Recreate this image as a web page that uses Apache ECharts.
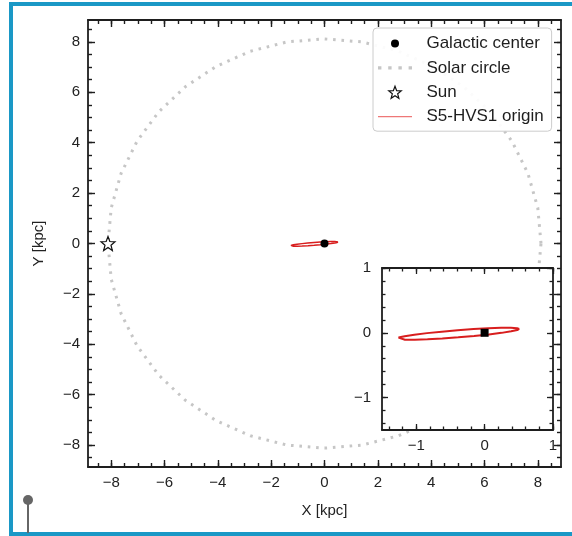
<!DOCTYPE html>
<html>
<head>
<meta charset="utf-8">
<script src="https://cdn.jsdelivr.net/npm/echarts@6/dist/echarts.min.js"></script>
<style>
html,body{margin:0;padding:0;background:#fff;}
#c{width:572px;height:536px;}
</style>
</head>
<body>
<div id="c"></div>
<script>
// ---- data ----
const mainRange = [-8.87, 8.87];
const mainMajorTicks = [-8, -6, -4, -2, 0, 2, 4, 6, 8];
const mainMinorStep = 0.5;
const insetRangeX = [-1.5, 1.0];
const insetRangeY = [-1.5, 1.0];
const insetMajorTicks = [-1, 0, 1];
const insetMinorStep = 0.2;

const galacticCenter = [[0, 0]];
const sunPosition = [[-8.12, 0]];

// Solar circle (R ~ 8.12 kpc), points read around the dotted ring
const solarCircle = [
  [8.12, 0], [8.00, 1.41], [7.63, 2.78], [7.03, 4.06], [6.22, 5.22], [5.22, 6.22],
  [4.06, 7.03], [2.78, 7.63], [1.41, 8.00], [0, 8.12], [-1.41, 8.00], [-2.78, 7.63],
  [-4.06, 7.03], [-5.22, 6.22], [-6.22, 5.22], [-7.03, 4.06], [-7.63, 2.78], [-8.00, 1.41],
  [-8.12, 0], [-8.00, -1.41], [-7.63, -2.78], [-7.03, -4.06], [-6.22, -5.22], [-5.22, -6.22],
  [-4.06, -7.03], [-2.78, -7.63], [-1.41, -8.00], [0, -8.12], [1.41, -8.00], [2.78, -7.63],
  [4.06, -7.03], [5.22, -6.22], [6.22, -5.22], [7.03, -4.06], [7.63, -2.78], [8.00, -1.41],
  [8.12, 0]
];

// S5-HVS1 origin contour
const originContour = [
  [0.507, 0.060], [0.475, 0.072], [0.384, 0.078], [0.241, 0.077], [0.054, 0.070],
  [-0.162, 0.057], [-0.395, 0.040], [-0.626, 0.018], [-0.842, -0.005], [-1.027, -0.030],
  [-1.169, -0.053], [-1.258, -0.074], [-1.287, -0.090], [-1.255, -0.102], [-1.164, -0.108],
  [-1.021, -0.107], [-0.835, -0.100], [-0.618, -0.087], [-0.385, -0.070], [-0.154, -0.048],
  [0.063, -0.025], [0.248, -0.001], [0.389, 0.023], [0.477, 0.043], [0.507, 0.060]
];

// ---- helpers ----
function minorTicks(range, step) {
  const out = [];
  for (let k = Math.ceil(range[0] / step - 1e-9); k * step <= range[1] + 1e-9; k++) {
    out.push(Math.round(k * step * 1000) / 1000);
  }
  return out;
}
const FONT = "'Liberation Sans', Arial, Helvetica, sans-serif";
const INK = '#1e1e1e';
const fmt = v => (v < 0 ? '\u2212' + Math.abs(v) : String(v));

function axisSet(grid, range, major, minor, pos, opp, o) {
  const base = (position, line, vals, len, labels) => ({
    type: 'value', gridIndex: grid, min: range[0], max: range[1], position: position, z: o.z,
    axisLine: { show: line, onZero: false, lineStyle: { color: INK, width: o.lw } },
    axisTick: { show: true, inside: true, length: len, customValues: vals, lineStyle: { color: INK, width: o.tw } },
    axisLabel: labels ? { show: true, customValues: vals, formatter: fmt, fontSize: o.fs, color: '#222', margin: o.margin, fontFamily: FONT } : { show: false },
    splitLine: { show: false },
    axisPointer: { show: false }
  });
  const a0 = base(pos, true, major, o.majorLen, true);
  if (o.name) {
    a0.name = o.name; a0.nameLocation = 'middle'; a0.nameGap = o.nameGap;
    a0.nameTextStyle = { fontSize: o.fs, color: '#222', fontFamily: FONT };
  }
  return [a0, base(opp, true, major, o.majorLen, false), base(pos, false, minor, o.minorLen, false), base(opp, false, minor, o.minorLen, false)];
}

const mainOpt = { z: 0, lw: 1.8, tw: 1.4, fs: 15, margin: 8, majorLen: 7, minorLen: 4 };
const insetOpt = { z: 4, lw: 1.8, tw: 1.3, fs: 15, margin: 8, majorLen: 6, minorLen: 3.5 };

const xAxes = [].concat(
  axisSet(0, mainRange, mainMajorTicks, minorTicks(mainRange, mainMinorStep), 'bottom', 'top', Object.assign({ name: 'X [kpc]', nameGap: 36 }, mainOpt)),
  axisSet(1, insetRangeX, insetMajorTicks, minorTicks(insetRangeX, insetMinorStep), 'bottom', 'top', insetOpt)
);
const yAxes = [].concat(
  axisSet(0, mainRange, mainMajorTicks, minorTicks(mainRange, mainMinorStep), 'left', 'right', Object.assign({ name: 'Y [kpc]', nameGap: 42 }, mainOpt)),
  axisSet(1, insetRangeY, insetMajorTicks, minorTicks(insetRangeY, insetMinorStep), 'left', 'right', Object.assign({}, insetOpt, { margin: 11 }))
);

const STAR = 'path://M12 1.5L14.7 8.6L22.3 9L16.4 13.8L18.4 21.2L12 17L5.6 21.2L7.6 13.8L1.7 9L9.3 8.6Z';
const RED = '#d81e1e';

const chart = echarts.init(document.getElementById('c'), null, { renderer: 'canvas' });
chart.setOption({
  animation: false,
  backgroundColor: '#fff',
  grid: [
    { left: 88, top: 20, width: 473, height: 447, containLabel: false },
    { left: 382, top: 268, width: 171, height: 162, show: true, backgroundColor: '#fff', borderWidth: 0, z: 3 }
  ],
  xAxis: xAxes,
  yAxis: yAxes,
  legend: {
    orient: 'vertical', left: 373, top: 28, padding: [7, 8, 6, 5],
    itemWidth: 34, itemHeight: 12, itemGap: 7.4,
    backgroundColor: 'rgba(255,255,255,0.92)', borderColor: '#cccccc', borderWidth: 1, borderRadius: 4,
    textStyle: { fontSize: 17, color: '#1e1e1e', fontFamily: FONT, lineHeight: 16 },
    formatter: n => '  ' + n,
    selectedMode: false, z: 10,
    data: [
      { name: 'Galactic center', icon: 'path://M0 0M12 12M2 6a4 4 0 1 0 8 0a4 4 0 1 0 -8 0z', itemStyle: { color: '#000', borderWidth: 0 } },
      { name: 'Solar circle', icon: 'path://M0 0h3v3H0zM9 0h3v3H9zM18 0h3v3h-3zM27 0h3v3h-3z', itemStyle: { color: '#c6c6c6', borderWidth: 0 } },
      { name: 'Sun', icon: STAR, itemStyle: { color: '#fff', borderColor: '#111', borderWidth: 1.2 } },
      { name: 'S5-HVS1 origin', icon: 'path://M0 0h34v1.3H0z', itemStyle: { color: '#ee7777', borderWidth: 0 } }
    ]
  },
  series: [
    {
      name: 'Solar circle', type: 'line', xAxisIndex: 0, yAxisIndex: 0, data: solarCircle,
      symbol: 'none', showSymbol: false, z: 1, silent: true,
      itemStyle: { color: '#c6c6c6' },
      lineStyle: { color: '#c6c6c6', width: 3, type: [2.6, 5.8] }
    },
    {
      name: 'S5-HVS1 origin', type: 'line', xAxisIndex: 0, yAxisIndex: 0, data: originContour,
      symbol: 'none', showSymbol: false, z: 2, silent: true,
      itemStyle: { color: RED }, lineStyle: { color: RED, width: 1.5 }
    },
    {
      name: 'Galactic center', type: 'scatter', xAxisIndex: 0, yAxisIndex: 0, data: galacticCenter,
      symbol: 'circle', symbolSize: 8, z: 3, silent: true, itemStyle: { color: '#000', opacity: 1 }
    },
    {
      name: 'Sun', type: 'scatter', xAxisIndex: 0, yAxisIndex: 0, data: sunPosition,
      symbol: STAR, symbolSize: 14, z: 3, silent: true,
      itemStyle: { color: '#fff', borderColor: '#111', borderWidth: 1.2, opacity: 1 }
    },
    {
      name: 'inset origin', type: 'line', xAxisIndex: 4, yAxisIndex: 4, data: originContour,
      symbol: 'none', showSymbol: false, z: 6, silent: true,
      itemStyle: { color: RED }, lineStyle: { color: RED, width: 2 }
    },
    {
      name: 'inset center', type: 'scatter', xAxisIndex: 4, yAxisIndex: 4, data: galacticCenter,
      symbol: 'rect', symbolSize: 8, z: 7, silent: true, itemStyle: { color: '#000', opacity: 1 }
    }
  ],
  graphic: [
    { type: 'rect', silent: true, z: 100, shape: { x: 11, y: 4, width: 620, height: 530 }, style: { fill: 'none', stroke: '#1a98c6', lineWidth: 4 } },
    { type: 'line', silent: true, z: 100, shape: { x1: 28, y1: 500, x2: 28, y2: 533 }, style: { stroke: '#666', lineWidth: 2 } },
    { type: 'circle', silent: true, z: 101, shape: { cx: 28, cy: 500, r: 5 }, style: { fill: '#666' } }
  ]
});
</script>
</body>
</html>
